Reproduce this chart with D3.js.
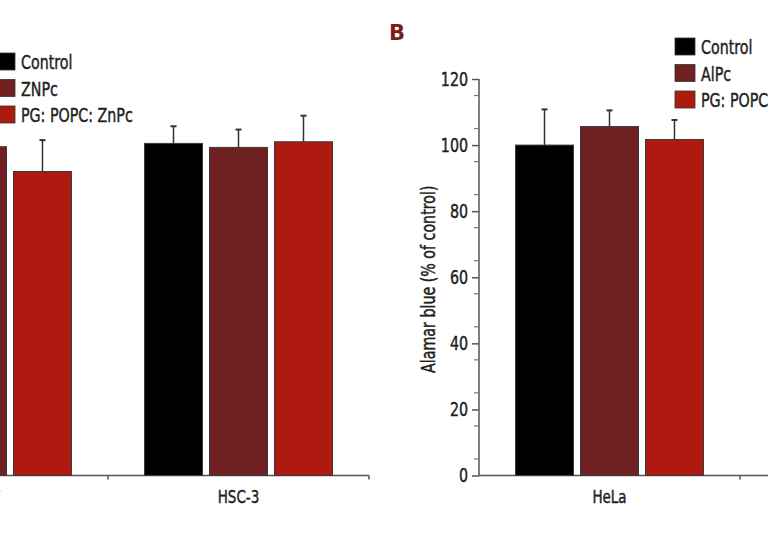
<!DOCTYPE html>
<html><head><meta charset="utf-8">
<script src="https://cdn.jsdelivr.net/npm/d3@7"></script>
<style>
body{margin:0;background:#fff;}
svg{display:block;}
text{font-family:"DejaVu Sans",sans-serif;fill:#1e1e1e;stroke:#1e1e1e;stroke-width:0.45px;}
</style></head>
<body><svg id="c" width="768" height="543"></svg>
<script>
// ---- data ----
const seriesA = ["Control", "ZNPc", "PG: POPC: ZnPc"];
const seriesB = ["Control", "AlPc", "PG: POPC: AlPc"];
const colors = ["#000000", "#702020", "#ae1910"];
const catsA = ["HaCaT", "HSC-3"];
const catsB = ["HeLa", ""];
// values (% of control) per category, order = series
const valuesA = [[100, 99.5, 92.0], [100.5, 99.3, 101.0]];
const errorsA = [[null, null, 9.5], [5.2, 5.4, 7.9]];
const valuesB = [[100, 105.6, 101.7]];
const errorsB = [[10.8, 4.9, 5.9]];
const yTicks = [0, 20, 40, 60, 80, 100, 120];
const yTitle = "Alamar blue (% of control)";
const panelLabel = "B";

// ---- layout ----
const SX = 0.75; // condensed look
const svg = d3.select("#c");
const y = d3.scaleLinear().domain([0, 120]).range([475.5, 79]);

function ctext(g, x, yy, str, size, anchor) {
  return g.append("text")
    .attr("transform", `translate(${x},${yy}) scale(${SX},1)`)
    .attr("text-anchor", anchor || "start").attr("font-size", size).text(str);
}

function drawPanel(g, cats, series, values, errors, x0range, axisEnd) {
  const x0 = d3.scaleBand().domain(cats).range(x0range);
  const x1 = d3.scaleBand().domain(series).range([0, x0.bandwidth()])
    .paddingInner(0.108).paddingOuter(0.562);
  g.append("line").attr("x1", x0range[0]).attr("x2", axisEnd)
    .attr("y1", y(0)).attr("y2", y(0)).attr("stroke", "#555").attr("stroke-width", 1.5);
  cats.forEach(c => {
    const xb = x0(c) + x0.bandwidth();
    g.append("line").attr("x1", xb).attr("x2", xb).attr("y1", y(0)).attr("y2", y(0) + 4)
      .attr("stroke", "#555").attr("stroke-width", 1.5);
    if (c) ctext(g, x0(c) + x0.bandwidth() / 2, y(0) + 27, c, 18, "middle");
  });
  values.forEach((vals, ci) => {
    const c = cats[ci];
    vals.forEach((v, si) => {
      const s = series[si];
      const bx = x0(c) + x1(s);
      const e = errors[ci][si];
      if (e != null) {
        const cx = bx + x1.bandwidth() / 2;
        g.append("line").attr("x1", cx).attr("x2", cx).attr("y1", y(v)).attr("y2", y(v + e))
          .attr("stroke", "#333").attr("stroke-width", 1.5);
        g.append("line").attr("x1", cx - 3).attr("x2", cx + 3).attr("y1", y(v + e)).attr("y2", y(v + e))
          .attr("stroke", "#333").attr("stroke-width", 2);
      }
      g.append("rect").attr("x", bx).attr("y", y(v)).attr("width", x1.bandwidth())
        .attr("height", y(0) - y(v)).attr("fill", colors[si])
        .attr("stroke", "#3a3a3a").attr("stroke-width", 1);
    });
  });
}

function drawLegend(g, series, x, y0) {
  series.forEach((s, i) => {
    g.append("rect").attr("x", x).attr("y", y0 + i * 26.5).attr("width", 20).attr("height", 17)
      .attr("fill", colors[i]).attr("stroke", "#333").attr("stroke-width", 0.8);
    ctext(g, x + 26, y0 + i * 26.5 + 16, s, 19);
  });
}

const gA = svg.append("g");
drawPanel(gA, catsA, seriesA, valuesA, errorsA, [-153, 369], 369);
drawLegend(gA, seriesA, -5, 53);

const gB = svg.append("g");
drawPanel(gB, catsB, seriesB, valuesB, errorsB, [479, 1001], 768);
const yAxis = d3.axisLeft(y).tickValues(yTicks).tickSize(7).tickPadding(4);
const ax = gB.append("g").attr("transform", "translate(479,0)").call(yAxis);
ax.select(".domain").attr("stroke", "#555").attr("stroke-width", 1.5).attr("d", `M0,${y(120)}V${y(0)}`);
ax.selectAll(".tick line").attr("stroke", "#555").attr("stroke-width", 1.5);
ax.selectAll(".tick text").attr("font-size", 19).attr("font-family", null).attr("fill", null)
  .attr("x", -11 / SX).attr("transform", `scale(${SX},1)`);
const minor = d3.range(5, 120, 10);
ax.selectAll(".minor").data(minor).enter().append("line")
  .attr("x1", -5).attr("x2", 0).attr("y1", d => y(d)).attr("y2", d => y(d))
  .attr("stroke", "#777").attr("stroke-width", 1.2);
gB.append("text")
  .attr("transform", `translate(435,${(y(0) + y(120)) / 2 + 2}) rotate(-90) scale(${SX},1)`)
  .attr("text-anchor", "middle").attr("font-size", 19).text(yTitle);
drawLegend(gB, seriesB, 675, 38);
svg.append("text").attr("x", 389).attr("y", 40).attr("font-size", 21).attr("font-weight", "bold")
  .attr("font-family", '"Liberation Sans",Arial,sans-serif')
  .style("fill", "#7a1c1c").style("stroke", "none").text(panelLabel);
</script></body></html>
